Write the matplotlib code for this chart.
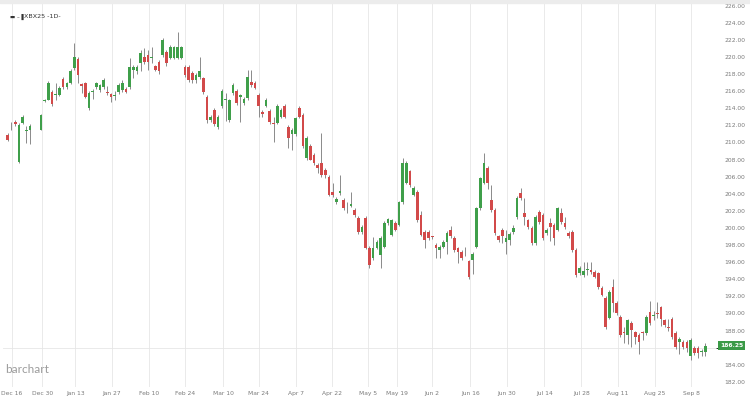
import numpy as np
import matplotlib
matplotlib.use("Agg")
import matplotlib.pyplot as plt
from matplotlib.patches import Rectangle

nan = np.nan
opens = [210.9, 212.1, 212.4, 207.7, 212.3, 211.3, 211.4, nan, nan, 211.5,
         214.8, 215.0, 215.9, 215.6, 215.6, 217.4, 216.5, 217.0, 218.7, 219.7,
         216.8, 217.0, 214.0, 215.9, 216.5, 216.1, 216.5, 215.9, 215.7, 215.4,
         215.9, 216.1, 216.3, 216.5, 218.5, 218.3, 219.3, 220.0, 220.2, 219.9,
         218.9, 219.4, 220.2, 220.6, 219.9, 219.9, 219.9, 219.9, 218.8, 218.8,
         218.1, 217.3, 217.6, 217.5, 215.3, 212.6, 213.8, 211.8, 214.2, 215.0,
         212.6, 215.8, 216.0, 215.3, 214.6, 215.2, 217.1, 217.0, 215.6, 213.5,
         214.3, 213.7, 212.3, 212.3, 213.0, 214.3, 211.8, 211.0, 211.0, 214.0,
         213.2, 208.2, 209.6, 208.5, 207.4, 207.6, 206.8, 206.0, 204.2, 203.0,
         204.1, 203.3, 202.4, 202.6, 202.1, 201.2, 199.5, 201.2, 197.7, 196.5,
         197.7, 196.8, 197.8, 200.6, 199.2, 200.6, 200.4, 203.0, 205.3, 206.6,
         203.9, 204.2, 201.5, 199.5, 199.5, 199.0, 198.0, 197.4, 197.8, 198.3,
         199.7, 198.8, 197.6, 197.2, 196.9, 196.1, 196.3, 197.8, 202.3, 205.3,
         207.0, 203.3, 202.1, 199.0, 199.8, 198.3, 198.6, 199.5, 201.3, 204.1,
         201.7, 200.9, 200.0, 198.2, 201.9, 201.5, 199.4, 200.6, 200.4, 199.8,
         201.7, 200.6, 199.4, 199.5, 197.4, 194.7, 194.5, 195.1, 195.1, 194.9,
         194.7, 193.0, 191.8, 189.5, 193.1, 191.2, 189.6, 187.8, 187.5, 188.9,
         187.8, 187.5, 187.8, 187.7, 190.2, 189.7, 190.0, 190.7, 189.2, 188.4,
         189.4, 187.7, 186.7, 186.7, 186.7, 185.0, 186.0, 186.0, 185.5, 185.5]
highs = [211.1, 212.4, 212.6, 212.3, 213.2, 211.9, 212.1, nan, nan, 213.3,
         215.1, 217.2, 216.1, 217.0, 216.6, 217.6, 217.1, 218.6, 221.6, 220.0,
         217.0, 217.1, 216.0, 216.2, 217.1, 216.8, 217.5, 216.6, 215.8, 216.0,
         216.9, 217.3, 216.5, 219.9, 219.0, 219.0, 220.8, 221.0, 220.8, 221.1,
         219.1, 219.6, 222.2, 220.8, 221.4, 221.3, 222.9, 221.3, 219.0, 219.0,
         218.3, 218.1, 220.0, 217.7, 215.5, 213.2, 214.0, 213.2, 216.2, 215.8,
         215.1, 216.9, 216.2, 215.7, 215.3, 218.5, 218.5, 217.2, 215.8, 213.8,
         215.2, 213.9, 213.0, 214.5, 214.0, 214.5, 212.0, 211.7, 213.0, 214.2,
         213.4, 210.7, 209.8, 208.8, 207.6, 211.1, 207.0, 206.2, 205.3, 203.6,
         206.2, 203.5, 203.0, 204.2, 202.3, 201.4, 200.3, 201.4, 197.9, 198.9,
         198.6, 199.0, 200.8, 201.2, 201.1, 200.8, 203.2, 208.2, 207.8, 206.8,
         204.9, 204.4, 202.0, 199.7, 199.7, 199.1, 198.2, 198.0, 198.6, 199.6,
         200.2, 199.0, 197.8, 197.4, 197.8, 196.3, 197.2, 202.5, 206.0, 208.8,
         207.2, 205.0, 202.3, 199.2, 200.0, 199.8, 199.5, 200.3, 203.7, 204.7,
         203.5, 201.1, 200.2, 201.5, 202.1, 201.7, 200.0, 201.2, 200.6, 202.5,
         202.3, 201.3, 199.6, 199.7, 197.6, 195.5, 196.0, 196.0, 196.0, 195.1,
         194.9, 193.2, 192.0, 192.7, 194.0, 191.4, 189.8, 188.4, 189.4, 189.1,
         188.0, 187.7, 188.0, 189.8, 191.4, 190.3, 191.3, 190.9, 189.4, 189.4,
         189.6, 187.9, 187.3, 186.9, 186.9, 187.1, 186.2, 186.2, 185.9, 186.5]
lows = [210.2, 211.5, 211.9, 207.6, 212.1, 209.9, 209.8, nan, nan, 211.4,
        214.7, 214.9, 214.3, 215.0, 215.4, 216.3, 216.2, 216.8, 218.5, 216.9,
        215.8, 215.2, 213.8, 215.1, 216.3, 215.9, 216.3, 215.5, 214.7, 215.0,
        215.7, 215.9, 215.8, 216.3, 217.5, 218.0, 218.4, 219.2, 218.5, 219.3,
        218.3, 218.0, 220.0, 218.9, 219.7, 219.8, 219.8, 219.7, 217.7, 217.1,
        216.9, 217.0, 217.4, 215.7, 212.3, 212.4, 211.9, 211.6, 214.0, 212.5,
        212.4, 215.6, 214.4, 212.4, 214.4, 215.0, 216.5, 216.2, 213.0, 213.0,
        214.1, 212.2, 210.1, 212.1, 212.8, 212.8, 209.4, 209.1, 210.8, 212.8,
        209.4, 207.9, 207.9, 207.3, 206.4, 206.0, 205.8, 203.7, 203.6, 202.8,
        203.9, 202.1, 201.7, 202.4, 201.3, 199.3, 199.3, 197.5, 195.3, 196.3,
        197.5, 195.3, 197.6, 200.4, 199.0, 199.6, 200.2, 202.8, 205.1, 204.8,
        203.7, 200.7, 199.0, 197.6, 198.6, 198.7, 196.5, 196.5, 197.6, 197.0,
        198.8, 197.2, 195.9, 196.3, 196.7, 194.0, 194.6, 197.6, 202.1, 205.1,
        204.5, 201.9, 199.2, 198.4, 198.2, 197.0, 198.0, 199.3, 201.1, 203.3,
        200.3, 199.9, 198.0, 198.0, 200.5, 198.6, 199.2, 198.5, 198.0, 199.6,
        200.5, 199.9, 198.8, 197.2, 194.3, 194.5, 194.3, 194.5, 194.6, 194.1,
        192.9, 192.0, 188.2, 189.3, 190.2, 189.8, 187.3, 186.6, 186.4, 186.1,
        186.4, 185.3, 186.9, 187.5, 188.7, 189.2, 189.5, 188.5, 188.4, 187.9,
        187.0, 185.9, 185.3, 185.9, 185.5, 184.6, 185.2, 184.8, 185.0, 185.0]
closes = [210.3, 212.2, 212.1, 212.0, 213.0, 211.5, 211.9, nan, nan, 213.2,
          215.0, 217.0, 214.5, 215.7, 216.4, 216.5, 217.0, 218.4, 220.0, 217.9,
          216.6, 215.3, 215.8, 216.0, 217.0, 216.7, 217.3, 215.8, 215.3, 215.6,
          216.7, 217.0, 215.9, 218.8, 218.8, 218.8, 220.5, 219.4, 219.4, 220.0,
          218.5, 218.3, 222.0, 219.3, 221.2, 221.2, 221.2, 221.1, 217.9, 217.3,
          217.3, 217.9, 218.3, 215.9, 212.6, 213.0, 212.1, 213.0, 216.0, 215.1,
          214.9, 216.7, 214.6, 215.5, 215.1, 217.7, 216.7, 216.4, 214.2, 213.3,
          215.0, 212.4, 212.2, 214.2, 213.8, 213.0, 210.5, 211.5, 212.8, 213.0,
          209.6, 210.5, 208.0, 207.6, 207.0, 206.2, 206.2, 203.9, 203.9, 203.4,
          204.3, 202.3, 202.5, 202.8, 201.5, 199.5, 200.1, 197.7, 195.7, 197.7,
          198.4, 198.8, 200.6, 201.0, 200.9, 199.8, 203.0, 207.6, 207.6, 205.0,
          204.7, 200.9, 199.2, 198.6, 198.8, 198.9, 197.7, 197.8, 198.4, 199.4,
          199.0, 197.4, 197.2, 196.5, 197.0, 194.3, 197.0, 202.3, 205.8, 207.6,
          205.3, 202.1, 199.4, 198.6, 199.0, 198.8, 199.3, 200.0, 203.5, 203.5,
          201.3, 200.1, 198.2, 201.3, 200.7, 198.8, 199.8, 200.1, 198.8, 202.3,
          200.7, 200.1, 199.0, 197.4, 194.5, 195.3, 195.0, 195.2, 194.8, 194.3,
          193.1, 192.2, 188.4, 192.5, 191.2, 190.0, 187.5, 187.7, 189.2, 188.1,
          187.2, 186.7, 187.7, 189.6, 188.9, 189.8, 189.9, 189.4, 188.6, 188.3,
          187.2, 186.1, 187.0, 186.1, 186.0, 186.9, 185.4, 185.4, 185.6, 186.25]

tick_pos = [1.1, 9.4, 18.3, 28.2, 38.2, 48.1, 58.3, 68, 78, 87.9,
            97.6, 105.4, 115, 125.3, 135.2, 145.4, 155.4, 165.3, 175.3, 185.2]
tick_labels = ["Dec 16", "Dec 30", "Jan 13", "Jan 27", "Feb 10", "Feb 24", "Mar 10",
               "Mar 24", "Apr 7", "Apr 22", "May 5", "May 19", "Jun 2", "Jun 16",
               "Jun 30", "Jul 14", "Jul 28", "Aug 11", "Aug 25", "Sep 8"]
price_ticks = [182, 184, 188, 190, 192, 194, 196, 198, 200, 202, 204, 206, 208,
               210, 212, 214, 216, 218, 220, 222, 224, 226]

up_col = "#3f9f4a"
dn_col = "#d24a4a"
wick_col = "#8a8a8a"

fig = plt.figure(figsize=(7.5, 3.98), dpi=100)
fig.patches.append(Rectangle((0, 0.992), 1, 0.008, transform=fig.transFigure,
                             color="#ececec", zorder=0))
ax = fig.add_axes([3 / 750, 11 / 398, 713 / 750, 384 / 398])

o = np.array(opens); h = np.array(highs); l = np.array(lows); c = np.array(closes)
x = np.arange(len(o))
ok = ~np.isnan(o)
up = ok & (c >= o)
dn = ok & (c < o)

ax.vlines(x[ok], l[ok], h[ok], color=wick_col, linewidth=0.7, zorder=2)
for m, col in ((up, up_col), (dn, dn_col)):
    body = np.maximum(np.abs(c[m] - o[m]), 0.08)
    ax.bar(x[m], body, bottom=np.minimum(o[m], c[m]), width=0.72,
           color=col, linewidth=0, zorder=3)

ax.set_xlim(-1.3, 191.9)
ax.set_ylim(181.4, 226.3)
ax.set_yticks(price_ticks)
ax.set_yticklabels(["%.2f" % v for v in price_ticks])
ax.set_xticks(tick_pos)
ax.set_xticklabels(tick_labels)
ax.yaxis.tick_right()
ax.tick_params(axis="both", length=0, labelsize=4.3, colors="#7a7a7a")
ax.tick_params(axis="y", pad=6)
ax.tick_params(axis="x", pad=3)
ax.set_yticks(np.arange(182, 227, 2), minor=True)
ax.grid(True, which="minor", axis="y", color="#e6e6e6", linewidth=0.6)
ax.grid(True, which="major", axis="x", color="#e6e6e6", linewidth=0.6)
ax.set_axisbelow(True)
for s in ax.spines.values():
    s.set_visible(False)

# last price box
ax.text(1.006, 186.25, "186.25", transform=ax.get_yaxis_transform(),
        fontsize=4.3, color="white", fontweight="bold", va="center", ha="left",
        bbox=dict(boxstyle="square,pad=0.35", fc="#3a9a47", ec="none"))

ax.text(0.010, 0.965, "\u25AC \u2013 \u258C", transform=ax.transAxes, fontsize=4,
        color="#333333", va="center")
ax.text(0.030, 0.965, "XBX25 -1D-", transform=ax.transAxes, fontsize=4.6,
        color="#333333", va="center")
ax.text(0.003, 0.03, "barchart", transform=ax.transAxes, fontsize=8.5,
        color="#9c9c9c", family="Lato", va="bottom")

fig.savefig("out.png", dpi=100, facecolor="white")
